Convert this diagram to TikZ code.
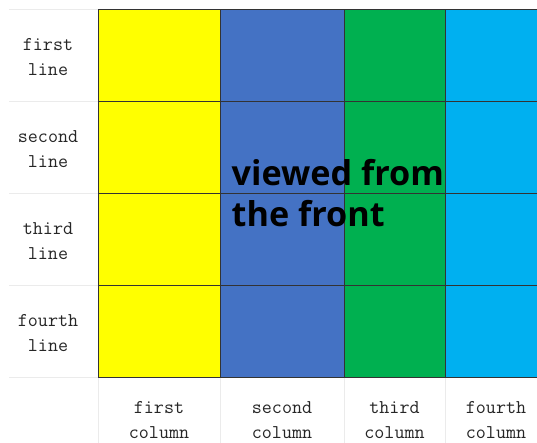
\documentclass[tikz,border=0pt]{standalone}
\usepackage{fontspec}
\newfontfamily\bigfont{Open Sans}
\definecolor{cyel}{HTML}{FFFF00}
\definecolor{cblu}{HTML}{4472C4}
\definecolor{cgrn}{HTML}{00B050}
\definecolor{ccya}{HTML}{00B0F0}
\definecolor{gridc}{HTML}{333333}
\definecolor{lightc}{HTML}{EBEBEB}
\definecolor{labc}{HTML}{262626}
\begin{document}
\begin{tikzpicture}[x=1pt,y=1pt,
  lab/.style={inner sep=0pt, align=center, text=labc, anchor=base,
    font=\fontsize{19.5}{25}\selectfont\ttfamily},
  big/.style={inner sep=0pt, align=left, anchor=base west, text=black,
    font=\fontsize{34.2}{41}\selectfont\bigfont\bfseries},
  darkline/.style={draw=gridc, line width=0.9pt},
  lightline/.style={draw=lightc, line width=0.8pt}]
\useasboundingbox (0,0) rectangle (537,443);
\fill[white] (0,0) rectangle (537,443);
% coloured columns
\fill[cyel] (98,66) rectangle (220,434);
\fill[cblu] (220,66) rectangle (344,434);
\fill[cgrn] (344,66) rectangle (445,434);
\fill[ccya] (445,66) rectangle (537,434);
% light table lines
\foreach \y in {434,342,250,158,66} \draw[lightline] (9,\y) -- (98,\y);
\foreach \x in {98,220,344,445} \draw[lightline] (\x,0) -- (\x,66);
% dark grid lines
\foreach \y in {434,342,250,158,66} \draw[darkline] (98,\y) -- (537,\y);
\foreach \x in {98,220,344,445} \draw[darkline] (\x,66) -- (\x,434);
% row labels (anchor at baseline of last line)
\node[lab] (r1) at (48,367) {first\\line};
\node[lab] (r2) at (48,275) {second\\line};
\node[lab] (r3) at (48,183) {third\\line};
\node[lab] (r4) at (48,91) {fourth\\line};
% column labels
\node[lab] (c1) at (159,4) {first\\column};
\node[lab] (c2) at (282,4) {second\\column};
\node[lab] (c3) at (394.5,4) {third\\column};
\node[lab] (c4) at (496,4) {fourth\\column};
% overlay text
\node[big] (view) at (231.5,216) {viewed from\\the front};
\end{tikzpicture}
\end{document}
